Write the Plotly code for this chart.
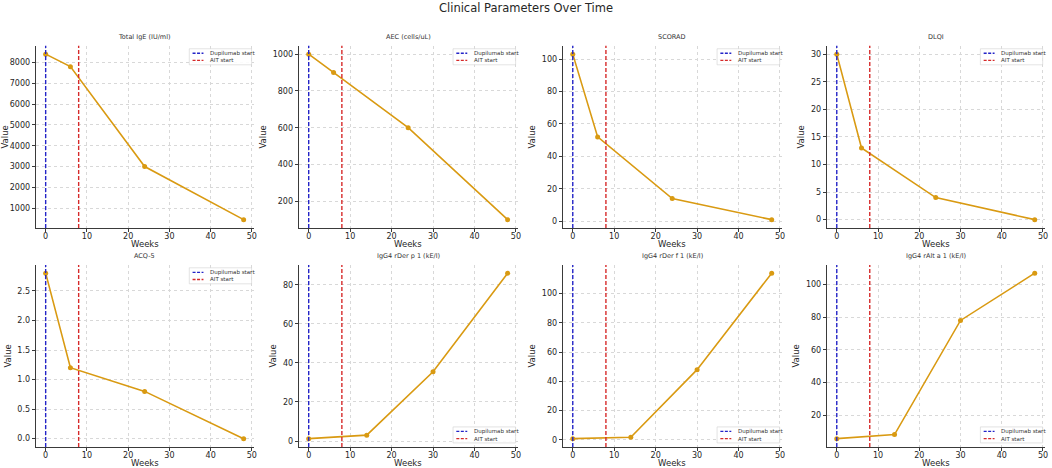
import plotly.graph_objects as go

# data
weeks_clin = [0, 6, 24, 48]
weeks_igg4 = [0, 14, 30, 48]

total_ige = [8400, 7800, 3000, 450]
aec = [1000, 900, 600, 100]
scorad = [103, 52, 14, 1]
dlqi = [30, 13, 4, 0]
acq5 = [2.8, 1.2, 0.8, 0.0]
igg4_der_p1 = [1.2, 3, 35.5, 86]
igg4_der_f1 = [0.8, 1.8, 48, 114]
igg4_alt_a1 = [5.5, 8, 78, 107]

dupilumab_start = 0
ait_start = 8
marker_names = ["Dupilumab start", "AIT start"]

panels = [
    ("Total IgE (IU/ml)", weeks_clin, total_ige, 1000, None, "top"),
    ("AEC (cells/uL)", weeks_clin, aec, 200, None, "top"),
    ("SCORAD", weeks_clin, scorad, 20, None, "top"),
    ("DLQI", weeks_clin, dlqi, 5, None, "top"),
    ("ACQ-5", weeks_clin, acq5, 0.5, ".1f", "top"),
    ("IgG4 rDer p 1 (kE/l)", weeks_igg4, igg4_der_p1, 20, None, "bottom"),
    ("IgG4 rDer f 1 (kE/l)", weeks_igg4, igg4_der_f1, 20, None, "bottom"),
    ("IgG4 rAlt a 1 (kE/l)", weeks_igg4, igg4_alt_a1, 20, None, "bottom"),
]

line_col = "#D99A12"
blue = "#2424C8"
red = "#D62A2A"
font = "DejaVu Sans, Liberation Sans, sans-serif"
dash = "4px,2px"
H = 468

x_domains = [[0.034, 0.241], [0.284, 0.492], [0.535, 0.743], [0.786, 0.993]]
y_domains = [[0.513, 0.902], [0.045, 0.434]]

fig = go.Figure()
layout = {}
annotations = []

for i, (title, weeks, vals, dtick, fmt, legpos) in enumerate(panels):
    n = i + 1
    row, col = divmod(i, 4)
    sx = "" if n == 1 else str(n)
    xa, ya = "x" + sx, "y" + sx
    xdom, ydom = xa + " domain", ya + " domain"

    fig.add_trace(go.Scatter(
        x=weeks, y=vals, mode="lines+markers",
        line=dict(color=line_col, width=1.6),
        marker=dict(color=line_col, size=5),
        showlegend=False, xaxis=xa, yaxis=ya,
    ))
    for xv, c in [(dupilumab_start, blue), (ait_start, red)]:
        fig.add_shape(type="line", x0=xv, x1=xv, y0=0, y1=1,
                      xref=xa, yref=ydom,
                      line=dict(color=c, width=1.4, dash=dash))

    # compact legend box (matplotlib style)
    if legpos == "top":
        by0, by1 = 0.896, 0.984
    else:
        by0, by1 = 0.022, 0.110
    bx0, bx1 = 0.705, 0.991
    fig.add_shape(type="rect", x0=bx0, x1=bx1, y0=by0, y1=by1,
                  xref=xdom, yref=ydom, fillcolor="rgba(255,255,255,0.9)",
                  line=dict(color="#d0d0d0", width=0.6), layer="above")
    for k, (name, c) in enumerate(zip(marker_names, [blue, red])):
        yy = by1 - (by1 - by0) * (0.28 + 0.45 * k)
        fig.add_shape(type="line", x0=bx0 + 0.015, x1=bx0 + 0.065, y0=yy, y1=yy,
                      xref=xdom, yref=ydom, layer="above",
                      line=dict(color=c, width=1.3, dash="3px,1.5px"))
        annotations.append(dict(
            text=name, x=bx0 + 0.085, y=yy, xref=xdom, yref=ydom,
            xanchor="left", yanchor="middle", showarrow=False,
            font=dict(size=5.5, color="#333333"),
        ))

    lo, hi = min(vals), max(vals)
    pad = (hi - lo) * 0.05
    xd, yd = x_domains[col], y_domains[row]

    common = dict(
        showline=True, linecolor="#3a3a3a", linewidth=1.2, mirror=False,
        ticks="outside", ticklen=3, tickcolor="#3a3a3a",
        showgrid=True, gridcolor="#d8d8d8", griddash="dot", gridwidth=0.8,
        zeroline=False, tickfont=dict(size=8, color="#262626"),
        title_font=dict(size=8.5, color="#262626"), automargin=False,
    )
    layout["xaxis" + sx] = dict(
        common, domain=xd, anchor=ya, range=[-2.4, 50.4], dtick=10, tick0=0,
        ticklabelstandoff=-3,
    )
    layout["yaxis" + sx] = dict(
        common, domain=yd, anchor=xa, range=[lo - pad, hi + pad],
        dtick=dtick, tick0=0, tickformat=fmt,
        title=dict(text="Value", standoff=4),
    )
    # x axis label, placed close under the tick labels as in matplotlib
    annotations.append(dict(
        text="Weeks", x=(xd[0] + xd[1]) / 2, y=yd[0] - 16 / H,
        xref="paper", yref="paper", xanchor="center", yanchor="middle",
        showarrow=False, font=dict(size=8.5, color="#262626"),
    ))
    annotations.append(dict(
        text=title, x=(xd[0] + xd[1]) / 2, y=yd[1] + 3 / H,
        xref="paper", yref="paper", xanchor="center", yanchor="bottom",
        showarrow=False, font=dict(size=6.5, color="#333333"),
    ))

fig.update_layout(
    **layout,
    annotations=annotations,
    title=dict(text="Clinical Parameters Over Time", x=0.5, xanchor="center",
               y=0.992, yanchor="top", font=dict(size=11.5, color="#262626")),
    width=1052, height=H,
    margin=dict(l=0, r=0, t=0, b=0),
    paper_bgcolor="white", plot_bgcolor="white",
    font=dict(family=font),
    showlegend=False,
)

fig.write_html("out.html", config={"displayModeBar": False},
               post_script="document.body.style.margin='0';")
